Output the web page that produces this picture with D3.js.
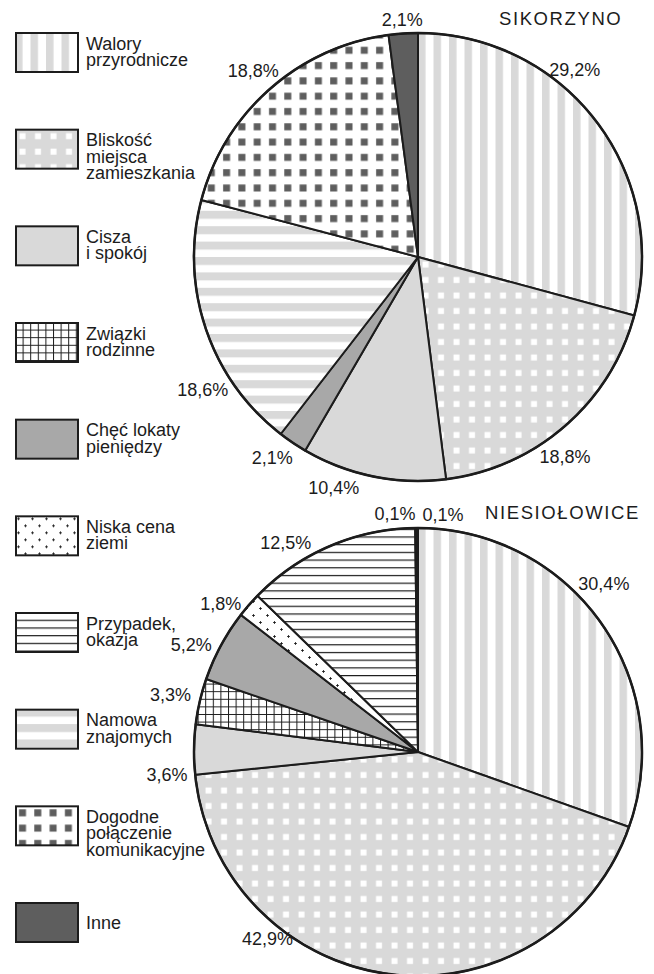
<!DOCTYPE html>
<html><head><meta charset="utf-8">
<script src="https://cdn.jsdelivr.net/npm/d3@7"></script>
<style>
body{margin:0;background:#fff}
svg{display:block}
text{font-family:"Liberation Sans",Arial,Helvetica,sans-serif;fill:#1c1c1c}
</style>
</head><body>
<svg id="c" width="654" height="974"></svg>
<script>
// ---------- DATA ----------
const categories = ["Walory przyrodnicze","Bliskość miejsca zamieszkania","Cisza i spokój","Związki rodzinne","Chęć lokaty pieniędzy","Niska cena ziemi","Przypadek, okazja","Namowa znajomych","Dogodne połączenie komunikacyjne","Inne"];
const legendLines = [["Walory","przyrodnicze"],["Bliskość","miejsca","zamieszkania"],["Cisza","i spokój"],["Związki","rodzinne"],["Chęć lokaty","pieniędzy"],["Niska cena","ziemi"],["Przypadek,","okazja"],["Namowa","znajomych"],["Dogodne","połączenie","komunikacyjne"],["Inne"]];
const titles = ["SIKORZYNO","NIESIOŁOWICE"];
const sikorzynoCats = ["Walory przyrodnicze","Bliskość miejsca zamieszkania","Cisza i spokój","Chęć lokaty pieniędzy","Namowa znajomych","Dogodne połączenie komunikacyjne","Inne"];
const sikorzynoValues = [29.2,18.8,10.4,2.1,18.6,18.8,2.1];
const niesiolowiceCats = ["Walory przyrodnicze","Bliskość miejsca zamieszkania","Cisza i spokój","Związki rodzinne","Chęć lokaty pieniędzy","Niska cena ziemi","Przypadek, okazja","Namowa znajomych","Dogodne połączenie komunikacyjne"];
const niesiolowiceValues = [30.4,42.9,3.6,3.3,5.2,1.8,12.5,0.1,0.1];

// ---------- LAYOUT (label placement around the pies) ----------
const sikLabelShift = [-12.6,4.7,8.5,2,-13,0,0];      // degrees from slice middle
const sikLabelR     = [244,248,246,248,253,249,238];
const niesLabelShift = [-7,32,-5.8,0,-3,-4,-9,-5,6.2];
const niesLabelR     = [251,240,252,254,251,247,248,239,239];

const W = 654, H = 974, R = 224;
const svg = d3.select("#c");
const defs = svg.append("defs");
const LG = "#d9d9d9", MG = "#a8a8a8", DG = "#5e5e5e", INK = "#1c1c1c";

function pat(id, w, h, draw){
  const p = defs.append("pattern").attr("id", id).attr("patternUnits","userSpaceOnUse")
    .attr("width", w).attr("height", h);
  draw(p);
}
pat("pWal", 15.5, 10, p => {
  p.append("rect").attr("width",15.5).attr("height",10).attr("fill","#fff");
  p.append("rect").attr("width",7.5).attr("height",10).attr("fill",LG);
});
pat("pBli", 15.5, 15.5, p => {
  p.append("rect").attr("width",15.5).attr("height",15.5).attr("fill",LG);
  p.append("rect").attr("x",4.5).attr("y",4.5).attr("width",6).attr("height",6).attr("fill","#fff");
});
pat("pZwi", 7.6, 7.6, p => {
  p.append("rect").attr("width",7.6).attr("height",7.6).attr("fill","#fff");
  p.append("path").attr("d","M0.5,0V7.6M0,0.5H7.6").attr("stroke",INK).attr("stroke-width",1);
});
pat("pNis", 14, 14, p => {
  p.append("rect").attr("width",14).attr("height",14).attr("fill","#fff");
  p.append("path").attr("d","M2.2,3.5h2.6M3.5,2.2v2.6M9.2,10.5h2.6M10.5,9.2v2.6")
    .attr("stroke",INK).attr("stroke-width",1);
});
pat("pPrz", 10, 7.7, p => {
  p.append("rect").attr("width",10).attr("height",7.7).attr("fill","#fff");
  p.append("rect").attr("y",0).attr("width",10).attr("height",1.2).attr("fill",INK);
});
pat("pNam", 10, 15.4, p => {
  p.append("rect").attr("width",10).attr("height",15.4).attr("fill","#fff");
  p.append("rect").attr("width",10).attr("height",8).attr("fill",LG);
});
pat("pDog", 15.3, 15.3, p => {
  p.append("rect").attr("width",15.3).attr("height",15.3).attr("fill","#fff");
  p.append("rect").attr("x",4).attr("y",4).attr("width",7).attr("height",7).attr("fill",DG);
});

const fill = d3.scaleOrdinal(categories,
  ["url(#pWal)","url(#pBli)",LG,"url(#pZwi)",MG,"url(#pNis)","url(#pPrz)","url(#pNam)","url(#pDog)",DG]);

// ---------- LEGEND ----------
const ly = d3.scaleLinear().domain([0, categories.length-1]).range([32, 902]);
const leg = svg.append("g");
categories.forEach((c,i) => {
  const g = leg.append("g").attr("transform", `translate(15,${ly(i)})`);
  g.append("rect").attr("x",1).attr("y",1).attr("width",62).attr("height",39)
    .attr("fill", fill(c)).attr("stroke", INK).attr("stroke-width", 2);
  const lines = legendLines[i];
  const t = g.append("text").attr("x", 71).attr("font-size", 18);
  lines.forEach((l,j) => {
    t.append("tspan").attr("x",71)
     .attr("y", lines.length === 1 ? 27 : 17.5 + j*16.5).text(l);
  });
});

// ---------- PIES ----------
const pie = d3.pie().sort(null).value(d => d.v).startAngle(0).endAngle(2*Math.PI);
const arc = d3.arc().innerRadius(0).outerRadius(R);
const fmt = v => d3.format(".1f")(v).replace(".", ",") + "%";

function drawPie(cx, cy, cats, vals, shifts, radii, title, titleX, titleY){
  const data = cats.map((c,i) => ({c, v: vals[i]}));
  const arcs = pie(data);
  const g = svg.append("g").attr("transform", `translate(${cx},${cy})`);
  g.selectAll("path.s").data(arcs).join("path").attr("class","s")
    .attr("d", arc).attr("fill", d => fill(d.data.c))
    .attr("stroke", INK).attr("stroke-width", 2).attr("stroke-linejoin","round");
  g.append("circle").attr("r", R).attr("fill","none").attr("stroke",INK).attr("stroke-width",2.5);
  g.selectAll("text.l").data(arcs).join("text").attr("class","l")
    .attr("font-size", 18).attr("text-anchor","middle").attr("dy","0.35em")
    .attr("x", (d,i) => { const a = (d.startAngle+d.endAngle)/2 + shifts[i]*Math.PI/180; return radii[i]*Math.sin(a); })
    .attr("y", (d,i) => { const a = (d.startAngle+d.endAngle)/2 + shifts[i]*Math.PI/180; return -radii[i]*Math.cos(a); })
    .text(d => fmt(d.data.v));
  svg.append("text").attr("x", titleX).attr("y", titleY).attr("font-size", 18.5)
    .attr("letter-spacing", 1.6).text(title);
}
drawPie(418, 257, sikorzynoCats, sikorzynoValues, sikLabelShift, sikLabelR, titles[0], 499, 25);
drawPie(418, 752, niesiolowiceCats, niesiolowiceValues, niesLabelShift, niesLabelR, titles[1], 485, 519);
</script>
</body></html>
